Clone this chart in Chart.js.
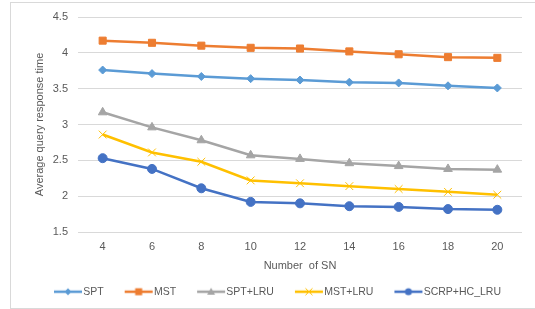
<!DOCTYPE html>
<html>
<head>
<meta charset="utf-8">
<script src="https://cdn.jsdelivr.net/npm/chart.js@4.4.0/dist/chart.umd.min.js"></script>
<style>
  body { margin: 0; background: #fff; }
  #wrap { position: relative; width: 535px; height: 309px; }
  #frame { position: absolute; left: 10px; top: 2px; width: 540px; height: 305px;
           border: 1px solid #d9d9d9; border-right: none; }
  canvas { position: absolute; left: 0; top: 0; }
</style>
</head>
<body>
<div id="wrap">
  <div id="frame"></div>
  <canvas id="chart" width="535" height="309"></canvas>
</div>
<script>
// datos
const numSN = ['4', '6', '8', '10', '12', '14', '16', '18', '20'];
const spt = [3.76, 3.71, 3.67, 3.64, 3.62, 3.59, 3.58, 3.54, 3.51];
const mst = [4.17, 4.14, 4.10, 4.07, 4.06, 4.02, 3.98, 3.94, 3.93];
const sptLru = [3.17, 2.96, 2.78, 2.57, 2.52, 2.46, 2.42, 2.38, 2.37];
const mstLru = [2.86, 2.61, 2.48, 2.22, 2.18, 2.14, 2.10, 2.06, 2.02];
const scrp = [2.53, 2.38, 2.11, 1.92, 1.90, 1.86, 1.85, 1.82, 1.81];

const GRIS = '#595959';
const FUENTE = 'Liberation Sans, Arial, sans-serif';

// icono de leyenda: linea + marcador (lienzo de 34px centrado en una caja de 24px)
function iconoLeyenda(color, estilo) {
    const c = document.createElement('canvas');
    c.width = 34; c.height = 12;
    const ctx = c.getContext('2d');
    ctx.strokeStyle = color;
    ctx.fillStyle = color;
    ctx.lineWidth = 2.5;
    ctx.beginPath(); ctx.moveTo(5, 6); ctx.lineTo(33, 6); ctx.stroke();
    const x = 19, y = 6;
    ctx.beginPath();
    if (estilo === 'rectRot') {
        ctx.moveTo(x, y - 3.5); ctx.lineTo(x + 3.5, y); ctx.lineTo(x, y + 3.5); ctx.lineTo(x - 3.5, y);
        ctx.closePath(); ctx.fill();
    } else if (estilo === 'rect') {
        ctx.fillRect(x - 3.5, y - 3.5, 7, 7);
    } else if (estilo === 'triangle') {
        ctx.moveTo(x, y - 4); ctx.lineTo(x + 4, y + 3); ctx.lineTo(x - 4, y + 3);
        ctx.closePath(); ctx.fill();
    } else if (estilo === 'crossRot') {
        ctx.lineWidth = 1;
        ctx.moveTo(x - 3.5, y - 3.5); ctx.lineTo(x + 3.5, y + 3.5);
        ctx.moveTo(x + 3.5, y - 3.5); ctx.lineTo(x - 3.5, y + 3.5);
        ctx.stroke();
    } else {
        ctx.arc(x, y, 3.5, 0, Math.PI * 2); ctx.fill();
    }
    return c;
}

function serie(label, data, color, estilo, radio) {
    return {
        label: label,
        data: data,
        borderColor: color,
        backgroundColor: color,
        borderWidth: 2.5,
        pointStyle: estilo,
        pointRadius: radio,
        pointHoverRadius: radio,
        pointBorderWidth: 1,
        tension: 0,
        icono: iconoLeyenda(color, estilo)
    };
}

const datasets = [
    serie('SPT', spt, '#5B9BD5', 'rectRot', 4),
    serie('MST', mst, '#ED7D31', 'rect', 5),
    serie('SPT+LRU', sptLru, '#A5A5A5', 'triangle', 5),
    serie('MST+LRU', mstLru, '#FFC000', 'crossRot', 5.5),
    serie('SCRP+HC_LRU', scrp, '#4472C4', 'circle', 4.5)
];

new Chart(document.getElementById('chart'), {
    type: 'line',
    data: { labels: numSN, datasets: datasets },
    options: {
        responsive: false,
        animation: false,
        layout: { padding: { left: 10, right: 13, top: 17, bottom: 2 } },
        plugins: {
            tooltip: { enabled: false },
            legend: {
                position: 'bottom',
                align: 'end',
                labels: {
                    usePointStyle: true,
                    pointStyleWidth: 24,
                    padding: 21,
                    color: GRIS,
                    font: { family: FUENTE, size: 10.5 },
                    generateLabels: (chart) => chart.data.datasets.map((d, i) => ({
                        text: d.label,
                        pointStyle: d.icono,
                        fontColor: GRIS,
                        datasetIndex: i,
                        hidden: false,
                        lineWidth: 0
                    }))
                }
            }
        },
        scales: {
            x: {
                offset: true,
                grid: { display: false, drawTicks: false },
                border: { display: false },
                ticks: { color: GRIS, padding: 8, font: { family: FUENTE, size: 11 } },
                title: {
                    display: true,
                    text: 'Number  of SN',
                    color: GRIS,
                    font: { family: FUENTE, size: 11 },
                    padding: { top: 0, bottom: -7 }
                },
                afterFit: (s) => { s.height = 33.5; }
            },
            y: {
                min: 1.5,
                max: 4.5,
                ticks: { stepSize: 0.5, color: GRIS, padding: 10, font: { family: FUENTE, size: 11 },
                         callback: (v) => String(v) },
                grid: { color: '#d9d9d9', drawTicks: false, lineWidth: 1 },
                border: { display: false },
                title: {
                    display: true,
                    text: 'Average query response time',
                    color: GRIS,
                    font: { family: FUENTE, size: 11 },
                    padding: { top: 23, bottom: 0 }
                },
                afterFit: (s) => { s.width = 68; }
            }
        }
    }
});
</script>
</body>
</html>
